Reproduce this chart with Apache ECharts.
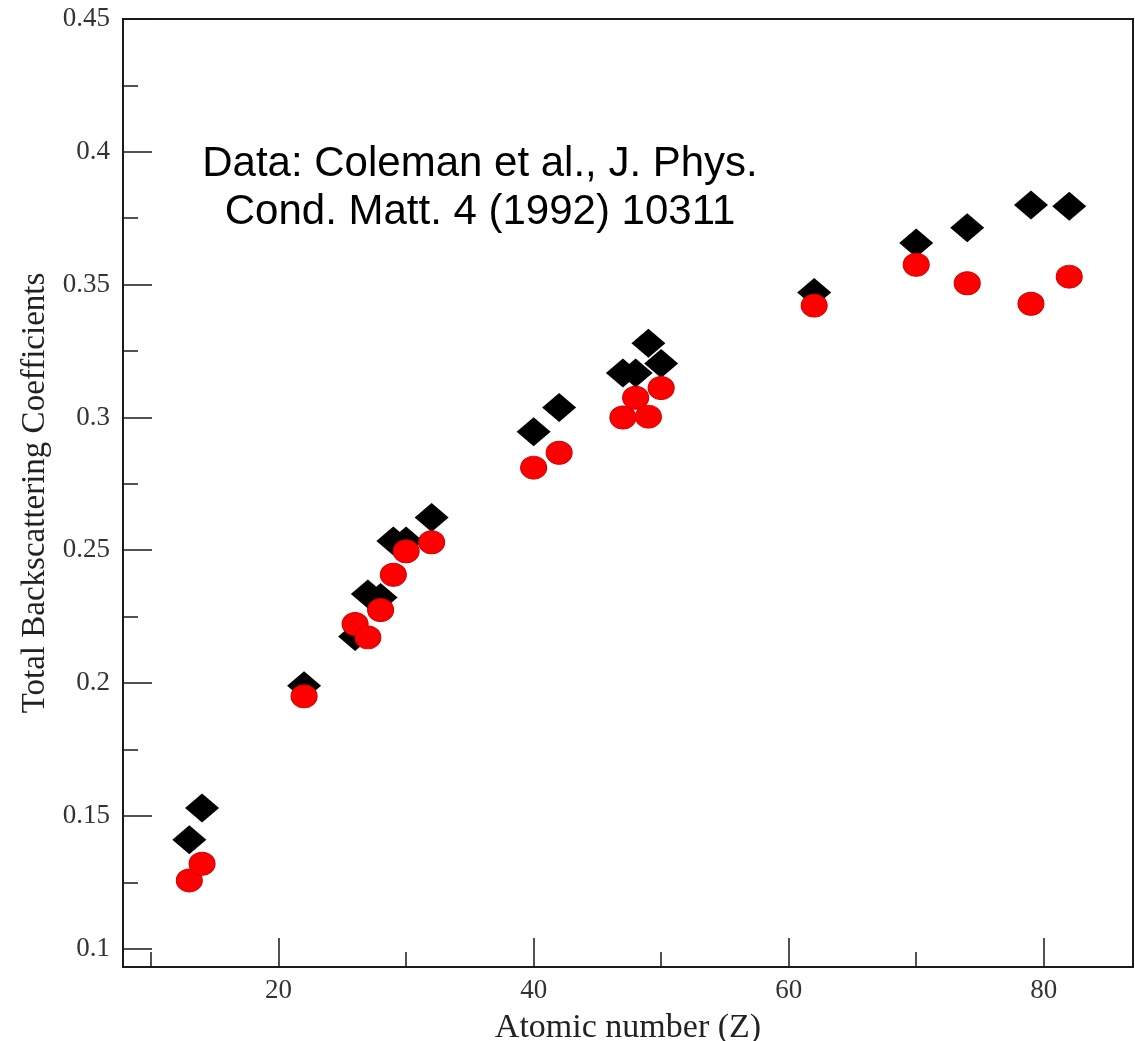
<!DOCTYPE html>
<html>
<head>
<meta charset="utf-8">
<script src="https://cdn.jsdelivr.net/npm/echarts@6/dist/echarts.min.js"></script>
<style>
    html,body{margin:0;padding:0;background:#fff;}
    #chart{width:1135px;height:1041px;}
</style>
</head>
<body>
<div id="chart"></div>
<script>
// atomic numbers of the measured elements
let atomicNumbers=[13,14,22,26,27,28,29,30,32,40,42,47,48,49,50,62,70,74,79,82];
// black diamonds
let blackValues=[0.141,0.153,0.199,0.2175,0.2335,0.2322,0.2535,0.2535,0.2623,0.2946,0.3037,0.3167,0.3167,0.3279,0.3203,0.347,0.3657,0.3714,0.380,0.3795];
// red circles
let redValues=[0.1257,0.132,0.195,0.2222,0.2172,0.2275,0.2408,0.2496,0.253,0.2811,0.2867,0.300,0.3074,0.3003,0.3111,0.3421,0.3575,0.3505,0.3428,0.353];
// tick labels
let xMajorTicks=[20,40,60,80];
let xMinorTicks=[10,30,50,70];
let yMajorTicks=[0.1,0.15,0.2,0.25,0.3,0.35,0.4,0.45];
let yMinorTicks=[0.125,0.175,0.225,0.275,0.325,0.375,0.425];

let serif='"Liberation Serif","DejaVu Serif",serif';
let sans='"Liberation Sans",Arial,sans-serif';
let lineColor='#1a1a1a';

function pairs(xs,ys){
    let out=[];
    for(let i=0;i<xs.length;i++){
        out.push([xs[i],ys[i]]);
    }
    return out;
}

let xRange={min:7.8,max:87};
let yRange={min:0.0931,max:0.45};

let chart=echarts.init(document.getElementById('chart'));
let option={
    animation:false,
    backgroundColor:'#fff',
    grid:{
        left:123,right:2,top:19,bottom:74,
        outerBoundsMode:'none',
        containLabel:false,
        show:true,
        borderColor:lineColor,
        borderWidth:2
    },
    xAxis:[{
        type:'value',
        position:'bottom',
        min:xRange.min,max:xRange.max,
        name:'Atomic number (Z)',
        nameLocation:'middle',
        nameGap:44,
        nameTextStyle:{fontFamily:serif,fontSize:34,color:'#222'},
        axisLine:{show:true,lineStyle:{color:lineColor,width:2}},
        axisTick:{show:true,inside:true,length:29,lineStyle:{color:lineColor,width:1.5},customValues:xMajorTicks},
        axisLabel:{show:true,margin:10,fontFamily:serif,fontSize:27,color:'#333',customValues:xMajorTicks},
        splitLine:{show:false}
    },{
        // minor ticks only
        type:'value',
        position:'bottom',
        min:xRange.min,max:xRange.max,
        axisLine:{show:false},
        axisTick:{show:true,inside:true,length:15,lineStyle:{color:lineColor,width:1.5},customValues:xMinorTicks},
        axisLabel:{show:false},
        splitLine:{show:false}
    }],
    yAxis:[{
        type:'value',
        position:'left',
        min:yRange.min,max:yRange.max,
        name:'Total Backscattering Coefficients',
        nameLocation:'middle',
        nameRotate:90,
        nameGap:60,
        nameTextStyle:{fontFamily:serif,fontSize:33,color:'#222'},
        axisLine:{show:true,lineStyle:{color:lineColor,width:2}},
        axisTick:{show:true,inside:true,length:29,lineStyle:{color:lineColor,width:1.5},customValues:yMajorTicks},
        axisLabel:{show:true,margin:13,fontFamily:serif,fontSize:27,color:'#333',customValues:yMajorTicks},
        splitLine:{show:false}
    },{
        type:'value',
        position:'left',
        min:yRange.min,max:yRange.max,
        axisLine:{show:false},
        axisTick:{show:true,inside:true,length:15,lineStyle:{color:lineColor,width:1.5},customValues:yMinorTicks},
        axisLabel:{show:false},
        splitLine:{show:false}
    }],
    graphic:[{
        type:'text',
        x:480,y:188,
        style:{
            text:'Data: Coleman et al., J. Phys.\nCond. Matt. 4 (1992) 10311',
            fontFamily:sans,
            fontSize:42,
            lineHeight:48,
            fill:'#000',
            textAlign:'center',
            textVerticalAlign:'middle'
        }
    }],
    series:[{
        type:'scatter',
        xAxisIndex:0,yAxisIndex:0,
        symbol:'diamond',
        symbolSize:[34,29],
        itemStyle:{color:'#000',opacity:1},
        data:pairs(atomicNumbers,blackValues),
        z:2
    },{
        type:'scatter',
        xAxisIndex:0,yAxisIndex:0,
        symbol:'circle',
        symbolSize:[26,23],
        itemStyle:{color:'#ff0000',borderColor:'#cc0000',borderWidth:1,opacity:1},
        data:pairs(atomicNumbers,redValues),
        z:3
    }]
};
chart.setOption(option);
</script>
</body>
</html>
